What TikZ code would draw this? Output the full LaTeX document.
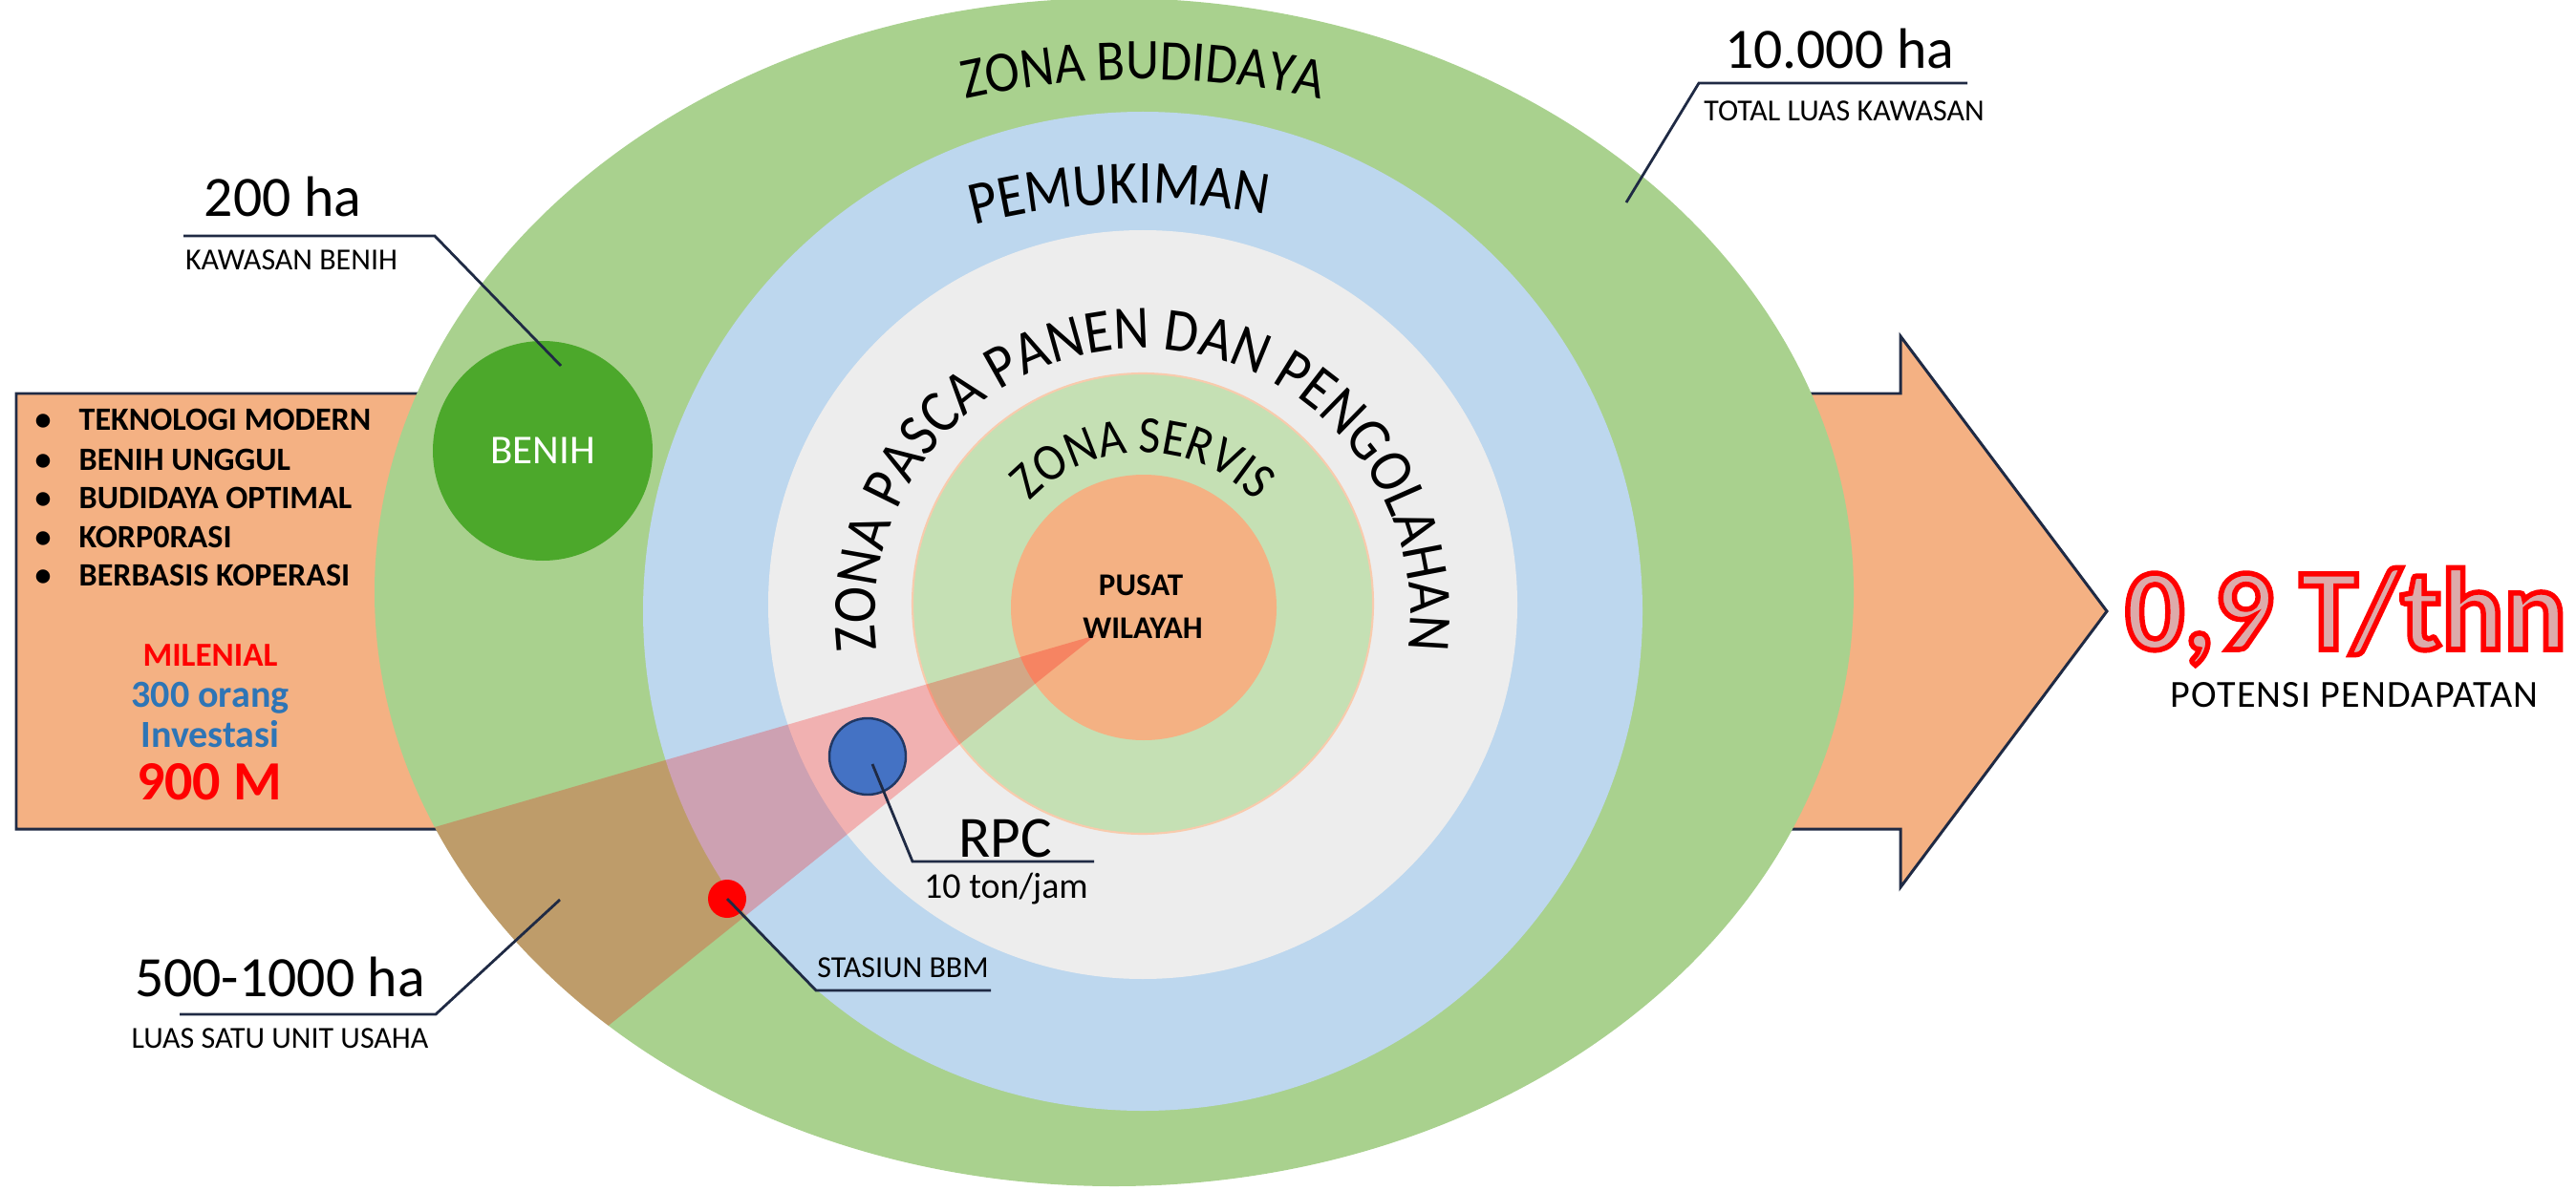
\documentclass[tikz,border=0pt]{standalone}
\usepackage{fontspec}
\setmainfont{Carlito}
\usepackage{tikz}
\usetikzlibrary{calc, positioning, decorations.text}

\definecolor{budidaya}{HTML}{A9D18E}
\definecolor{pemukiman}{HTML}{BDD7EE}
\definecolor{pascapanen}{HTML}{EDEDED}
\definecolor{servis}{HTML}{C5E0B4}
\definecolor{servisline}{HTML}{F8CBAD}
\definecolor{pusatfill}{HTML}{F4B183}
\definecolor{benihfill}{HTML}{4CA82B}
\definecolor{rpcfill}{HTML}{4472C4}
\definecolor{rpcline}{HTML}{203864}
\definecolor{leader}{HTML}{1F2A44}
\definecolor{milblue}{HTML}{2E75B6}
\definecolor{hasilfill}{HTML}{DDAAAA}

\newcommand{\arcfont}[1]{\fontsize{#1}{#1}\selectfont\addfontfeature{FakeStretch=0.9}}

\tikzset{
  leaderline/.style={draw=leader, line width=0.8pt},
  biglabel/.style={anchor=base, inner sep=0pt, font=\fontsize{17}{20}\selectfont},
  smalllabel/.style={anchor=base, inner sep=0pt, font=\fontsize{9.1}{11}\selectfont},
  listitem/.style={anchor=base west, inner sep=0pt, font=\bfseries\fontsize{9.7}{11}\selectfont},
  midlabel/.style={anchor=base, inner sep=0pt, font=\bfseries\fontsize{#1}{#1}\selectfont},
}

\begin{document}
\begin{tikzpicture}
\useasboundingbox (0,0) rectangle (26.96,12.46);

% panah besar
\filldraw[fill=pusatfill, draw=leader, line width=0.85pt]
  (0.17,8.34) -- (19.89,8.34) -- (19.89,8.94) -- (22.05,6.06)
  -- (19.89,3.17) -- (19.89,3.78) -- (0.17,3.78) -- cycle;

% zona
\fill[budidaya] (11.66,6.26) ellipse [x radius=7.74cm, y radius=6.22cm];
\fill[pemukiman] (11.96,6.06) circle [radius=5.23cm];
\fill[pascapanen] (11.96,6.13) circle [radius=3.92cm];
\filldraw[fill=servis, draw=servisline, line width=0.6pt] (11.96,6.14) circle [radius=2.41cm];
\fill[pusatfill] (11.97,6.10) circle [radius=1.39cm];

\begin{scope}
  \clip (11.66,6.26) ellipse [x radius=7.74cm, y radius=6.22cm];
  \coordinate (apex) at (11.47,5.81);
  \fill[red, opacity=0.25] (apex) -- ++(196.2:10) -- ($(apex)+(218.7:10)$) -- cycle;
\end{scope}

\node[circle, fill=benihfill, minimum size=2.30cm, inner sep=0pt, text=white,
  font=\fontsize{12.2}{14}\selectfont] (benih) at (5.68,7.74) {BENIH};
\node[circle, fill=rpcfill, draw=rpcline, line width=0.7pt, minimum size=0.80cm,
  inner sep=0pt] (rpc) at (9.08,4.54) {};
\node[circle, fill=red, minimum size=0.40cm, inner sep=0pt] (bbm) at (7.61,3.05) {};

% teks melengkung
\path[decorate, decoration={text along path, text align=center,
  text={|\arcfont{17.2}|ZONA BUDIDAYA}}]
  ([shift={(110:8.5)}]11.96,3.13) arc[start angle=110, end angle=70, radius=8.5];
\path[decorate, decoration={text along path, text align=center,
  text={|\arcfont{18.2}|PEMUKIMAN}}]
  ([shift={(112:7)}]11.96,3.33) arc[start angle=112, end angle=72, radius=7];
\path[decorate, decoration={text along path, text align=center,
  text={|\arcfont{18.3}|ZONA PASCA PANEN DAN PENGOLAHAN}}]
  ([shift={(195:2.8)}]11.96,6.01) arc[start angle=195, end angle=-15, radius=2.8];
\path[decorate, decoration={text along path, text align=center,
  text={|\arcfont{15.6}|ZONA SERVIS}}]
  ([shift={(150:1.62)}]11.96,6.10) arc[start angle=150, end angle=30, radius=1.62];

\node[midlabel=9.4] (pusat) at (11.94,6.23) {PUSAT};
\node[midlabel=9.4] (wilayah) at (11.96,5.78) {WILAYAH};

% keterangan
\node[biglabel] (benihha) at (2.96,10.19) {200 ha};
\node[smalllabel] (benihket) at (3.05,9.63) {KAWASAN BENIH};
\coordinate (benihknee) at (4.55,9.99);
\coordinate (benihend) at (1.92,9.99);
\draw[leaderline] ([shift={(0.19,0.89)}]benih.center) -- (benihknee) -- (benihend);

\node[biglabel] (totalha) at (19.25,11.74) {10.000 ha};
\node[smalllabel] (totalket) at (19.30,11.19) {TOTAL LUAS KAWASAN};
\coordinate (totalin) at (17.02,10.34);
\coordinate (totalknee) at (17.78,11.59);
\coordinate (totalend) at (20.59,11.59);
\draw[leaderline] (totalin) -- (totalknee) -- (totalend);

\node[biglabel] (unitha) at (2.93,2.03) {500-1000 ha};
\node[smalllabel] (unitket) at (2.93,1.49) {LUAS SATU UNIT USAHA};
\coordinate (unitin) at (5.86,3.04);
\coordinate (unitknee) at (4.56,1.84);
\coordinate (unitend) at (1.88,1.84);
\draw[leaderline] (unitin) -- (unitknee) -- (unitend);

\node[smalllabel] (bbmket) at (9.45,2.23) {STASIUN BBM};
\coordinate (bbmknee) at (8.54,2.09);
\coordinate (bbmend) at (10.37,2.09);
\draw[leaderline] (bbm.center) -- (bbmknee) -- (bbmend);

\node[anchor=base, inner sep=0pt, font=\fontsize{17.4}{20}\selectfont] (rpcket) at (10.52,3.49) {RPC};
\node[anchor=base, inner sep=0pt, font=\fontsize{10.8}{13}\selectfont] (rpccap) at (10.53,3.06) {10 ton/jam};
\coordinate (rpcknee) at (9.55,3.44);
\coordinate (rpcend) at (11.45,3.44);
\draw[leaderline] ([shift={(0.05,-0.08)}]rpc.center) -- (rpcknee) -- (rpcend);

% isi panah kiri
\foreach \y/\item [count=\i] in {7.96/TEKNOLOGI MODERN, 7.54/BENIH UNGGUL,
    7.14/BUDIDAYA OPTIMAL, 6.73/KORP0RASI, 6.33/BERBASIS KOPERASI} {
  \node[anchor=base, inner sep=0pt, font=\bfseries\fontsize{9.7}{11}\selectfont] (dot\i) at (0.45,\y) {•};
  \node[listitem] (item\i) at (0.82,\y) {\item};
}
\node[midlabel=10, text=red] (milenial) at (2.20,5.49) {MILENIAL};
\node[midlabel=11.4, text=milblue] (orang) at (2.20,5.06) {300 orang};
\node[midlabel=11.4, text=milblue] (investasi) at (2.20,4.64) {Investasi};
\node[midlabel=16.5, text=red] (nilai) at (2.19,4.09) {900 M};

% hasil
\node[anchor=base, inner sep=0pt, text=hasilfill,
  font=\bfseries\fontsize{34.7}{40}\selectfont\addfontfeature{FakeBold=4.5}]
  (hasil) at (24.55,5.66) {\special{pdf:literal direct 1 0 0 RG}0,9 T/thn};
\node[anchor=base, inner sep=0pt, font=\fontsize{11.4}{13}\selectfont\addfontfeature{LetterSpace=3}]
  (hasilket) at (24.64,5.06) {POTENSI PENDAPATAN};
\end{tikzpicture}
\end{document}
